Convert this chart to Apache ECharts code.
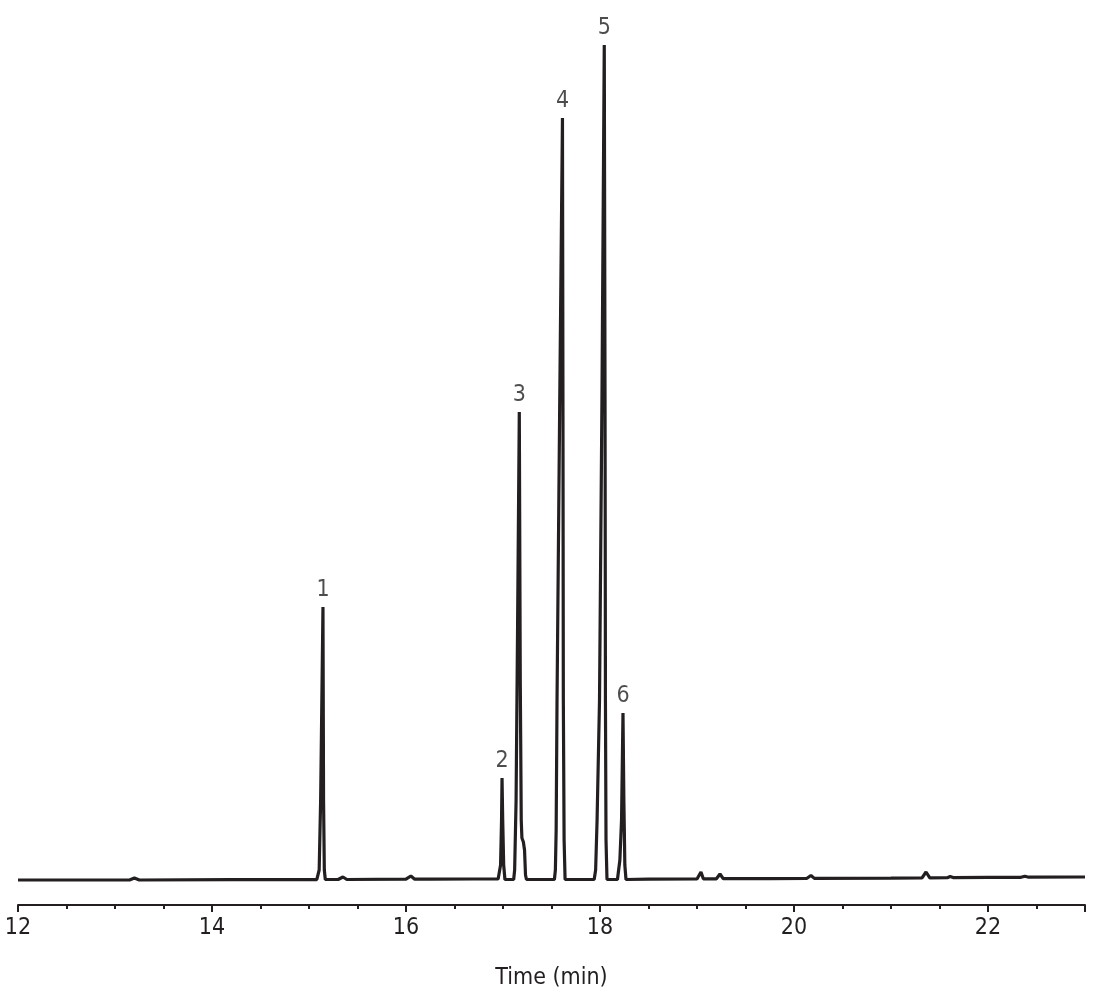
<!DOCTYPE html>
<html><head><meta charset="utf-8">
<script src="https://cdn.jsdelivr.net/npm/echarts@6/dist/echarts.min.js"></script>
<style>html,body{margin:0;padding:0;background:#fff}#c{width:1103px;height:1002px}</style>
</head><body><div id="c"></div>
<script>
// Retention time (min) and detector signal (arbitrary units)
var times = [
 12.0, 13.15, 13.2, 13.25, 14.2, 15.08,
 15.09, 15.105, 15.12, 15.144, 15.15, 15.158, 15.168,
 15.3, 15.35, 15.39, 16.0, 16.05, 16.09, 16.2, 16.22, 16.25, 16.7, 16.95,
 16.96, 16.975, 16.985, 16.99, 16.997, 17.007, 17.02,
 17.11, 17.12, 17.135, 17.15, 17.168, 17.178, 17.188, 17.195, 17.21, 17.222, 17.232, 17.242,
 17.4, 17.53, 17.54, 17.548, 17.557, 17.585, 17.613, 17.618, 17.622, 17.63, 17.64,
 17.8, 17.94, 17.955, 17.97, 17.995, 18.02, 18.044, 18.052, 18.056, 18.062, 18.072,
 18.18, 18.19, 18.205, 18.222, 18.237, 18.246, 18.256, 18.268,
 18.5, 19.0, 19.02, 19.041, 19.065, 19.2, 19.237, 19.27, 19.75, 20.13, 20.175, 20.21,
 21.0, 21.32, 21.361, 21.4, 21.58, 21.61, 21.64, 22.0, 22.34, 22.38, 22.42, 23.0
];
var signal = [
 0, 0, 2, 0, 0.3, 0.3,
 0.5, 10, 80, 273, 80, 10, 0.5,
 0.5, 3, 0.5, 0.8, 4, 0.8, 0.8, 2.5, 0.8, 1, 1,
 1, 15, 60, 102, 60, 15, 0.5,
 0.5, 10, 80, 250, 468, 200, 60, 42, 38, 30, 5, 0.5,
 0.5, 0.5, 10, 50, 180, 480, 762, 480, 180, 40, 0.5,
 0.5, 0.5, 10, 60, 180, 480, 835, 480, 180, 40, 0.5,
 0.5, 0.5, 20, 60, 167, 80, 15, 0.5,
 0.8, 1, 1.2, 8, 1.2, 1.2, 6, 1.3, 1.4, 1.5, 4.5, 1.6,
 1.9, 2.1, 8, 2.2, 2.3, 3.5, 2.4, 2.6, 2.7, 3.8, 2.8, 3.0
];
// Peak labels
var peakNames = ['1', '2', '3', '4', '5', '6'];
var peakTimes = [15.144, 16.99, 17.168, 17.613, 18.044, 18.237];
var peakHeights = [273, 102, 468, 762, 835, 167];
// Axis
var xMin = 12, xMax = 23, xStep = 2;

var FONT = "'Liberation Sans Narrow', 'DejaVu Sans Condensed', 'Roboto Condensed', sans-serif";
var INK = '#231f20';
var trace = times.map(function (t, i) { return [t, signal[i]]; });
var peaks = peakTimes.map(function (t, i) { return { value: [t, peakHeights[i]], name: peakNames[i] }; });

var chart = echarts.init(document.getElementById('c'));
chart.setOption({
  animation: false,
  backgroundColor: '#fff',
  grid: { left: 18, right: 18, top: 40, bottom: 97 },
  xAxis: {
    type: 'value', min: xMin, max: xMax, interval: xStep,
    name: 'Time (min)', nameLocation: 'middle', nameGap: 62,
    nameTextStyle: { fontFamily: FONT, fontSize: 23, color: INK },
    axisLine: { show: true, onZero: false, lineStyle: { color: INK, width: 2 } },
    axisTick: { show: true, length: 7, lineStyle: { color: INK, width: 2 } },
    minorTick: { show: true, splitNumber: 4, length: 4, lineStyle: { color: INK, width: 2 } },
    splitLine: { show: false },
    axisLabel: {
      fontFamily: FONT, fontSize: 23, color: INK, margin: 12,
      formatter: function (v) { return (v % 2 === 0) ? String(v) : ''; }
    }
  },
  yAxis: {
    type: 'value', min: -25, max: 840, show: false, splitLine: { show: false }
  },
  series: [
    {
      type: 'line', data: trace, showSymbol: false, silent: true,
      lineStyle: { color: INK, width: 3.2 }, z: 2
    },
    {
      type: 'scatter', data: peaks, symbolSize: 0, silent: true,
      label: {
        show: true, position: 'top', distance: 5,
        formatter: function (p) { return p.name; },
        fontFamily: FONT, fontSize: 23, color: INK
      }
    }
  ]
});
</script>
</body></html>
